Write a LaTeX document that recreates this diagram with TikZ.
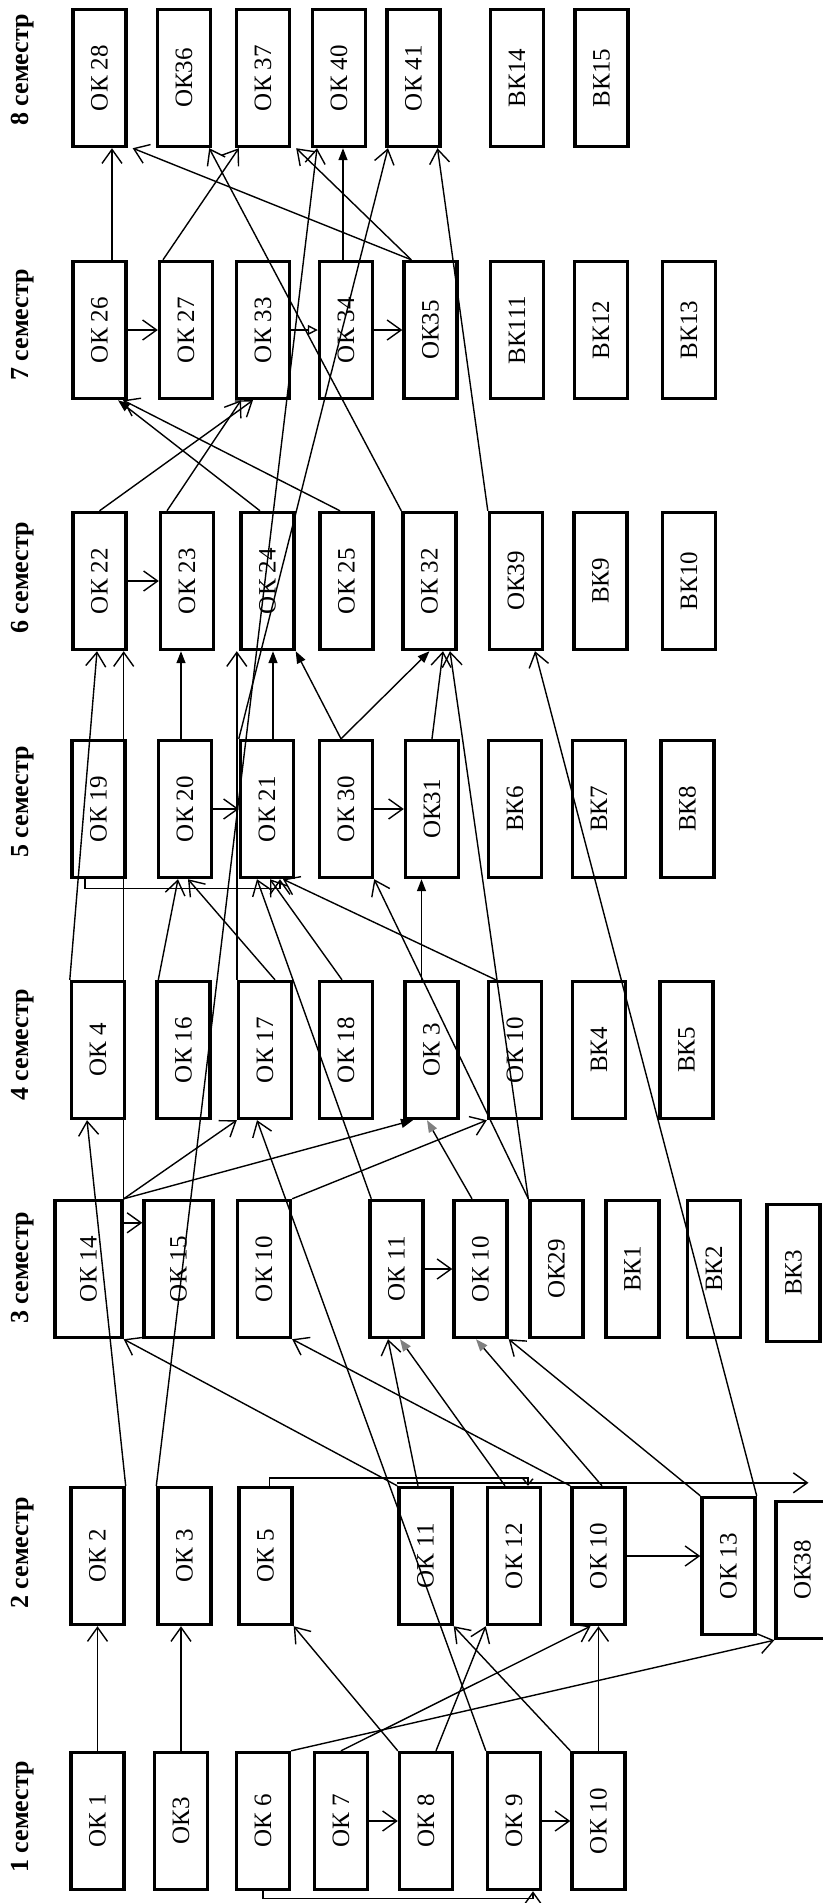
\documentclass[tikz,border=0pt]{standalone}
\usepackage{fontspec}
\setmainfont{Liberation Serif}
\usepackage{graphicx}
\usetikzlibrary{arrows.meta}
\newcommand{\vt}[1]{\rotatebox{90}{#1}}

\begin{document}
\begin{tikzpicture}[
  x=0.5pt, y=-0.5pt,
  >={Straight Barb[length=7pt,width=10pt]},
  kbox/.style={draw, line width=1.7pt, minimum width=26.5pt, minimum height=68.5pt,
               inner sep=0pt, font=\fontsize{12.5}{14}\selectfont},
  sem/.style={inner sep=0pt, font=\bfseries\fontsize{13}{15}\selectfont},
  link/.style={->, line width=0.7pt},
  flink/.style={-{Triangle[length=6pt,width=4.5pt]}, line width=0.7pt},
  glink/.style={-{Triangle[length=6pt,width=4.5pt,color=gray]}, line width=0.7pt},
  olink/.style={-{Triangle[open,length=5pt,width=5pt]}, line width=0.7pt},
]
\useasboundingbox (0,0) rectangle (823,1903);

\node[sem] (sem8) at (23,70) {\vt{8 семестр}};
\node[sem] (sem7) at (23,325) {\vt{7 семестр}};
\node[sem] (sem6) at (23,578) {\vt{6 семестр}};
\node[sem] (sem5) at (23,802) {\vt{5 семестр}};
\node[sem] (sem4) at (23,1045) {\vt{4 семестр}};
\node[sem] (sem3) at (23,1268) {\vt{3 семестр}};
\node[sem] (sem2) at (23,1553) {\vt{2 семестр}};
\node[sem] (sem1) at (23,1817) {\vt{1 семестр}};

\node[kbox] (s8k28) at (99.5,78) {\vt{ОК 28}};
\node[kbox] (s8k36) at (184,78) {\vt{ОК36}};
\node[kbox] (s8k37) at (263,78) {\vt{ОК 37}};
\node[kbox] (s8k40) at (339,78) {\vt{ОК 40}};
\node[kbox] (s8k41) at (413.5,78) {\vt{ОК 41}};
\node[kbox] (s8v14) at (517,78) {\vt{ВК14}};
\node[kbox] (s8v15) at (601.5,78) {\vt{ВК15}};

\node[kbox] (s7k26) at (99.5,330) {\vt{ОК 26}};
\node[kbox] (s7k27) at (186,330) {\vt{ОК 27}};
\node[kbox] (s7k33) at (263,330) {\vt{ОК 33}};
\node[kbox] (s7k34) at (346,330) {\vt{ОК 34}};
\node[kbox] (s7k35) at (430.5,330) {\vt{ОК35}};
\node[kbox] (s7v11) at (517,330) {\vt{ВК111}};
\node[kbox] (s7v12) at (601,330) {\vt{ВК12}};
\node[kbox] (s7v13) at (689,330) {\vt{ВК13}};

\node[kbox] (s6k22) at (99.5,581) {\vt{ОК 22}};
\node[kbox] (s6k23) at (187,581) {\vt{ОК 23}};
\node[kbox] (s6k24) at (267.5,581) {\vt{ОК 24}};
\node[kbox] (s6k25) at (346.5,581) {\vt{ОК 25}};
\node[kbox] (s6k32) at (429.5,581) {\vt{ОК 32}};
\node[kbox] (s6k39) at (516,581) {\vt{ОК39}};
\node[kbox] (s6v9) at (600.5,581) {\vt{ВК9}};
\node[kbox] (s6v10) at (689,581) {\vt{ВК10}};

\node[kbox] (s5k19) at (98.5,809) {\vt{ОК 19}};
\node[kbox] (s5k20) at (185,809) {\vt{ОК 20}};
\node[kbox] (s5k21) at (267,809) {\vt{ОК 21}};
\node[kbox] (s5k30) at (346,809) {\vt{ОК 30}};
\node[kbox] (s5k31) at (432,809) {\vt{ОК31}};
\node[kbox] (s5v6) at (515,809) {\vt{ВК6}};
\node[kbox] (s5v7) at (599,809) {\vt{ВК7}};
\node[kbox] (s5v8) at (687.5,809) {\vt{ВК8}};

\node[kbox] (s4k4) at (98,1050) {\vt{ОК 4}};
\node[kbox] (s4k16) at (183.5,1050) {\vt{ОК 16}};
\node[kbox] (s4k17) at (265,1050) {\vt{ОК 17}};
\node[kbox] (s4k18) at (346,1050) {\vt{ОК 18}};
\node[kbox] (s4k3) at (431.5,1050) {\vt{ОК 3}};
\node[kbox] (s4k10) at (515,1050) {\vt{ОК 10}};
\node[kbox] (s4v4) at (599,1050) {\vt{ВК4}};
\node[kbox] (s4v5) at (686.5,1050) {\vt{ВК5}};

\node[kbox, minimum width=33.5pt] (s3k14) at (88.5,1269) {\vt{ОК 14}};
\node[kbox, minimum width=34.5pt] (s3k15) at (178.5,1269) {\vt{ОК 15}};
\node[kbox] (s3k10a) at (264,1269) {\vt{ОК 10}};
\node[kbox] (s3k11) at (396.5,1269) {\vt{ОК 11}};
\node[kbox] (s3k10b) at (480.5,1269) {\vt{ОК 10}};
\node[kbox] (s3k29) at (556.5,1269) {\vt{ОК29}};
\node[kbox] (s3v1) at (632.5,1269) {\vt{ВК1}};
\node[kbox] (s3v2) at (714,1269) {\vt{ВК2}};
\node[kbox] (s3v3) at (793.5,1273) {\vt{ВК3}};

\node[kbox] (s2k2) at (97.5,1556) {\vt{ОК 2}};
\node[kbox] (s2k3) at (184.5,1556) {\vt{ОК 3}};
\node[kbox] (s2k5) at (265.5,1556) {\vt{ОК 5}};
\node[kbox] (s2k11) at (425.5,1556) {\vt{ОК 11}};
\node[kbox] (s2k12) at (514,1556) {\vt{ОК 12}};
\node[kbox] (s2k10) at (598.5,1556) {\vt{ОК 10}};
\node[kbox] (s2k13) at (728.5,1566) {\vt{ОК 13}};
\node[kbox] (s2k38) at (802.5,1570) {\vt{ОК38}};

\node[kbox] (s1k1) at (97.5,1821) {\vt{ОК 1}};
\node[kbox] (s1k3) at (181,1821) {\vt{ОК3}};
\node[kbox] (s1k6) at (263,1821) {\vt{ОК 6}};
\node[kbox] (s1k7) at (341,1821) {\vt{ОК 7}};
\node[kbox] (s1k8) at (426,1821) {\vt{ОК 8}};
\node[kbox] (s1k9) at (514,1821) {\vt{ОК 9}};
\node[kbox] (s1k10) at (598.5,1821) {\vt{ОК 10}};

\coordinate (t38) at ([xshift=3pt,yshift=8.5pt]s2k38.north);

\draw[link] (s1k1) -- (s2k2);
\draw[link] (s1k3.north) -- (s1k3.north |- s2k3.south);
\draw[link] (s1k8.north west) -- (s2k5.south east);
\draw[link] (s1k7.north) -- ([xshift=-4pt]s2k10.south);
\draw[link] (s1k6.north east) -- (s2k38.south west);
\draw[link] ([xshift=5pt]s1k8.north) -- (s2k12.south west);
\draw[link] (s1k9.north west) -- ([xshift=-4pt]s4k17.south);
\draw[link] (s1k10.north west) -- (s2k11.south east);
\draw[link] (s1k10) -- (s2k10);
\draw[link] (s1k7) -- (s1k8);
\draw[link] (s1k9) -- (s1k10);
\draw[link] (s1k6.south) -- ++(0,7) -| ([xshift=9.5pt]s1k9.south);

\draw[link] (s2k10.east) -- (s2k10.east -| s2k13.west);
\draw[-{Straight Barb[length=3pt,width=5pt]}, line width=0.7pt]
  ([xshift=2pt]s2k5.north) -- ++(0,-8) -| ([xshift=7pt]s2k12.north);
\draw[link] ([yshift=1.5pt]s2k11.north west) -- (t38);

\draw[link] (s2k2.north east) -- ([xshift=-5.5pt]s4k4.south);
\draw[link] (s2k3.north west) -- ([xshift=-11pt]s8k40.south);
\draw[link] (s2k11.north west) -- (s3k14.south east);
\draw[link] (s2k10.north west) -- (s3k10a.south east);
\draw[link] ([xshift=-3.75pt]s2k11.north) -- ([xshift=-4.25pt]s3k11.south);
\draw[glink] ([xshift=-4.5pt]s2k12.north) -- ([xshift=1.75pt]s3k11.south);
\draw[glink] ([xshift=1.75pt]s2k10.north) -- ([xshift=-2.25pt]s3k10b.south);
\draw[link] (s2k13.north west) -- (s3k10b.south east);
\draw[link] (s2k13.north east) -- ([xshift=9.5pt]s6k39.south);

\draw[link] ([yshift=-12pt]s3k14.north east) -- ([yshift=-12pt]s3k14.north east -| s3k15.west);
\draw[link] (s3k11) -- (s3k10b);

\draw[link] (s3k14.north east) -- (s4k17.south west);
\draw[flink] (s3k14.north east) -- ([xshift=-9.25pt]s4k3.south);
\draw[link] (s3k10a.north east) -- (s4k10.south west);
\draw[glink] ([xshift=-4.25pt]s3k10b.north) -- ([xshift=-2.25pt]s4k3.south);
\draw[link] ([xshift=1.5pt]s3k11.north west) -- ([xshift=-5pt]s5k21.south);
\draw[link] (s3k29.north west) -- (s5k30.south east);
\draw[link] (s3k29.north west) -- ([xshift=10.25pt]s6k32.south);
\draw[link] (s3k14.north east) -- (s3k14.north east |- s6k22.south);

\draw[link] (s4k4.north west) -- ([xshift=-1.25pt]s6k22.south);
\draw[link] ([xshift=1.5pt]s4k16.north west) -- ([xshift=-3.5pt]s5k20.south);
\draw[link] ([xshift=5pt]s4k17.north) -- ([xshift=1.5pt]s5k20.south);
\draw[link] ([xshift=-2pt]s4k18.north) -- ([xshift=1.5pt]s5k21.south);
\draw[link] ([xshift=4.5pt]s4k10.north west) -- ([xshift=8pt]s5k21.south);
\draw[flink] ([xshift=-5pt]s4k3.north) -- ([xshift=-5pt]s4k3.north |- s5k31.south);
\draw[link] (s4k17.north west) -- (s4k17.north west |- s6k24.south);
\draw[link] ([xshift=-6.75pt]s5k19.south) -- ++(0,9) -| ([xshift=6.5pt]s5k21.south);

\draw[link] (s5k20) -- (s5k21);
\draw[link] (s5k30) -- (s5k31);

\draw[flink] ([xshift=-2pt]s5k20.north) -- ([xshift=-2pt]s5k20.north |- s6k23.south);
\draw[flink] ([xshift=3pt]s5k21.north) -- ([xshift=3pt]s5k21.north |- s6k24.south);
\draw[flink] ([xshift=-2.5pt]s5k30.north) -- (s6k24.south east);
\draw[flink] ([xshift=-2.5pt]s5k30.north) -- (s6k32.south);
\draw[link] (s5k31.north) -- ([xshift=6.75pt]s6k32.south);
\draw[link] (s5k21.north west) -- ([xshift=-12.75pt]s8k41.south);

\draw[link] (s6k22) -- (s6k23);

\draw[link] (s6k22.north) -- ([xshift=-5pt]s7k33.south);
\draw[link] ([xshift=-10pt]s6k23.north) -- ([xshift=-11pt]s7k33.south);
\draw[flink] ([xshift=-3.75pt]s6k24.north) -- ([xshift=9.25pt]s7k26.south);
\draw[link] ([xshift=-3.25pt]s6k25.north) -- ([xshift=11.75pt]s7k26.south);
\draw[link] (s6k32.north west) -- ([xshift=-1.5pt]s8k36.south east);
\draw[link] (s6k39.north west) -- ([xshift=12pt]s8k41.south);

\draw[link] (s7k26) -- (s7k27);
\draw[olink] (s7k33) -- (s7k34);
\draw[link] (s7k34) -- (s7k35);

\draw[link] ([xshift=6.25pt]s7k26.north) -- ([xshift=6.25pt]s7k26.north |- s8k28.south);
\draw[link] ([xshift=4.5pt]s7k35.north west) -- ([xshift=2.5pt]s8k28.south east);
\draw[link] ([xshift=-11.5pt]s7k27.north) -- ([xshift=2pt]s8k37.south west);
\draw[link] ([xshift=4.5pt]s7k35.north west) -- ([xshift=2.5pt]s8k37.south east);
\draw[flink] ([xshift=-1.5pt]s7k34.north) -- ([xshift=-1.5pt]s7k34.north |- s8k40.south);
\end{tikzpicture}
\end{document}
